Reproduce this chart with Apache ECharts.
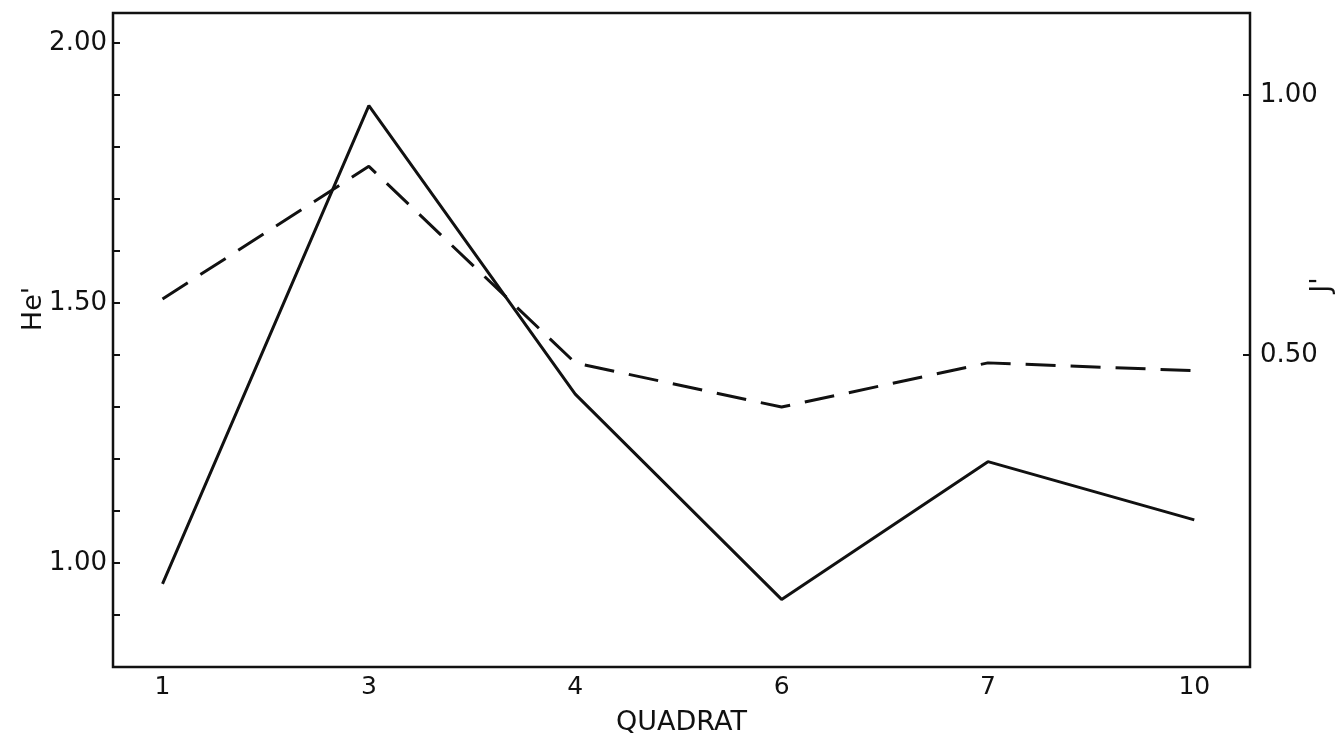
<!DOCTYPE html>
<html>
<head>
<meta charset="utf-8">
<script src="https://cdn.jsdelivr.net/npm/echarts@6/dist/echarts.min.js"></script>
<style>html,body{margin:0;padding:0;background:#fff;}#c{width:1339px;height:734px;}</style>
</head>
<body>
<div id="c"></div>
<script>
const quadrats = ['1', '3', '4', '6', '7', '10'];
const heValues = [0.96, 1.88, 1.325, 0.93, 1.195, 1.083];
const jValues = [0.608, 0.863, 0.485, 0.40, 0.485, 0.47];
const leftTicks = [0.8, 0.9, 1.0, 1.1, 1.2, 1.3, 1.4, 1.5, 1.6, 1.7, 1.8, 1.9, 2.0];
const leftLabels = [1.0, 1.5, 2.0];
const rightTicks = [0.5, 1.0];
const rightLabels = [0.5, 1.0];

const font = 'DejaVu Sans';
const chart = echarts.init(document.getElementById('c'), null, {renderer: 'canvas'});
const xIdx = quadrats.map((q, i) => i);

chart.setOption({
  backgroundColor: '#fff',
  animation: false,
  grid: {left: 113, right: 89, top: 13, bottom: 67, show: true, borderColor: '#111', borderWidth: 2.5,
         backgroundColor: 'transparent', containLabel: false, outerBoundsMode: 'none'},
  xAxis: {
    type: 'value', min: -0.24, max: 5.27,
    name: 'QUADRAT', nameLocation: 'middle', nameGap: 42, nameMoveOverlap: false,
    nameTextStyle: {fontFamily: font, fontSize: 27, color: '#111'},
    axisLine: {show: false, onZero: false}, axisTick: {show: false}, splitLine: {show: false},
    axisLabel: {customValues: xIdx, formatter: v => quadrats[Math.round(v)], fontFamily: font, fontSize: 25, color: '#111', margin: 8}
  },
  yAxis: [
    {
      type: 'value', min: 0.8, max: 2.058, position: 'left',
      name: "He'", nameLocation: 'middle', nameGap: 66, nameRotate: 90, nameMoveOverlap: false,
      nameTextStyle: {fontFamily: font, fontSize: 27, color: '#111', padding: [0, 0, 0, 62]},
      axisLine: {show: false, onZero: false}, splitLine: {show: false},
      axisTick: {show: true, inside: true, length: 7, customValues: leftTicks, lineStyle: {color: '#111', width: 2}},
      axisLabel: {customValues: leftLabels, formatter: v => v.toFixed(2), fontFamily: font, fontSize: 26, color: '#111', margin: 6}
    },
    {
      type: 'value', min: -0.1, max: 1.158, position: 'right',
      name: "J'", nameLocation: 'middle', nameGap: 58, nameRotate: 90, nameMoveOverlap: false,
      nameTextStyle: {fontFamily: font, fontSize: 27, color: '#111', padding: [0, 0, 0, 110]},
      axisLine: {show: false, onZero: false}, splitLine: {show: false},
      axisTick: {show: true, inside: true, length: 7, customValues: rightTicks, lineStyle: {color: '#111', width: 2}},
      axisLabel: {customValues: rightLabels, formatter: v => v.toFixed(2), fontFamily: font, fontSize: 26, color: '#111', margin: 10}
    }
  ],
  series: [
    {
      type: 'line', yAxisIndex: 0, data: xIdx.map(i => [i, heValues[i]]),
      showSymbol: false, lineStyle: {color: '#111', width: 3}
    },
    {
      type: 'line', yAxisIndex: 1, data: xIdx.map(i => [i, jValues[i]]),
      showSymbol: false, lineStyle: {color: '#111', width: 3, type: [30, 15]}
    }
  ]
});
</script>
</body>
</html>
